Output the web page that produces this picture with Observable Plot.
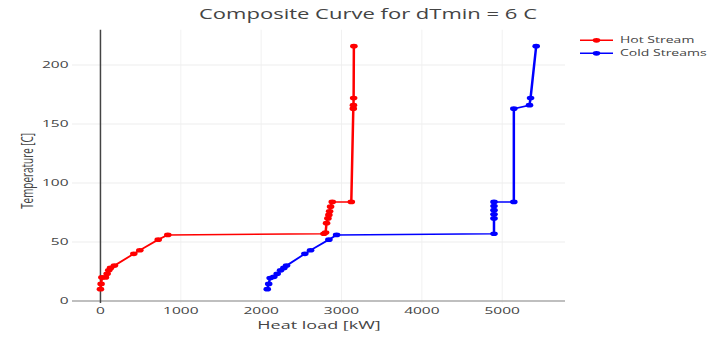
<!DOCTYPE html>
<html>
<head>
<meta charset="utf-8">
<script src="https://cdn.jsdelivr.net/npm/d3@7"></script>
<script src="https://cdn.jsdelivr.net/npm/@observablehq/plot@0.6"></script>
<style>
  html, body { margin: 0; padding: 0; overflow: hidden; background: #fff; }
  #wrap { position: relative; width: 718px; height: 547px; transform: scaleY(0.6197); transform-origin: 0 0; font-family: "Open Sans", sans-serif; color: #444; }
  #wrap svg.plot { display: block; position: absolute; left: 0; top: 0; }
  #title { position: absolute; left: 0; top: 6px; width: 736px; height: 30px; line-height: 30px; text-align: center; font-size: 22px; color: #444; white-space: nowrap; }
  .leg { position: absolute; left: 580px; height: 20px; line-height: 20px; display: flex; align-items: center; font-size: 14px; color: #444; white-space: nowrap; }
  .leg svg { display: block; margin-right: 7px; }
</style>
</head>
<body>
<div id="wrap">
  <div id="title">Composite Curve for dTmin = 6 C</div>
</div>
<script>
// Hot composite curve: heat load [kW] and temperature [C]
const hotQ = [0, 8, 18, 62, 83, 103, 125, 174, 415, 490, 719, 838, 2781, 2802, 2814, 2831, 2843, 2852, 2864, 2885, 3122, 3147, 3149, 3151, 3154];
const hotT = [10, 14.5, 20, 20, 23, 26, 28, 30, 40, 43, 52, 56, 57, 58, 66, 70, 73, 76, 80, 84, 84, 163, 166, 172, 216];
// Cold composite curve
const coldQ = [2076, 2094, 2112, 2158, 2200, 2242, 2283, 2316, 2544, 2615, 2843, 2939, 4898, 4898, 4898, 4898, 4898, 4898, 5145, 5145, 5340, 5353, 5423];
const coldT = [10, 14.5, 19.5, 20.5, 23, 26, 28, 30, 40, 43, 52, 56, 57, 70, 73.5, 77, 80.5, 84, 84, 163, 166, 172, 216];

const seriesNames = ["Hot Stream", "Cold Streams"];
const seriesColors = ["red", "blue"];
const xTicks = [0, 1000, 2000, 3000, 4000, 5000];
const yTicks = [0, 50, 100, 150, 200];
const xLabel = "Heat load [kW]";
const yLabel = "Temperature [C]";

const hot = hotQ.map((q, i) => ({q, t: hotT[i]}));
const cold = coldQ.map((q, i) => ({q, t: coldT[i]}));

const font = "Open Sans";
const chart = Plot.plot({
  width: 718,
  height: 547,
  marginLeft: 72,
  marginRight: 153,
  marginTop: 48,
  marginBottom: 58,
  style: {fontFamily: font, color: "#444", background: "transparent", overflow: "visible"},
  x: {domain: [-348, 5788]},
  y: {domain: [-2, 229.7]},
  marks: [
    Plot.gridX(xTicks.filter(d => d !== 0), {stroke: "#eee", strokeOpacity: 1, strokeWidth: 1}),
    Plot.gridY(yTicks.filter(d => d !== 0), {stroke: "#eee", strokeOpacity: 1, strokeWidth: 1.6}),
    Plot.ruleY([0], {stroke: "#aaa", strokeWidth: 2.4}),
    Plot.ruleX([0], {stroke: "#444", strokeWidth: 1.5}),
    Plot.axisX(xTicks, {tickSize: 0, tickPadding: 6, fontSize: 15.5, fill: "#444", label: null, tickFormat: d3.format("d")}),
    Plot.axisY(yTicks, {tickSize: 0, tickPadding: 4, fontSize: 15.5, fill: "#444", label: null, tickFormat: d3.format("d")}),
    Plot.text([xLabel], {text: d => d, frameAnchor: "bottom", dy: 41, fontSize: 18, fill: "#444"}),
    Plot.text([yLabel], {text: d => d, frameAnchor: "left", dx: -45, dy: 68, rotate: -90, fontSize: 16, fill: "#444"}),
    Plot.line(hot, {x: "q", y: "t", stroke: seriesColors[0], strokeWidth: 2.5}),
    Plot.dot(hot, {x: "q", y: "t", r: 3.8, fill: seriesColors[0], stroke: "none"}),
    Plot.line(cold, {x: "q", y: "t", stroke: seriesColors[1], strokeWidth: 2.5}),
    Plot.dot(cold, {x: "q", y: "t", r: 3.8, fill: seriesColors[1], stroke: "none"})
  ]
});
chart.classList.add("plot");
const wrap = document.getElementById("wrap");
wrap.appendChild(chart);

// Legend
const rowsY = [54.5, 76];
seriesNames.forEach((name, i) => {
  const row = document.createElement("div");
  row.className = "leg";
  row.style.top = rowsY[i] + "px";
  row.innerHTML = `<svg width="33" height="20"><line x1="0" x2="33" y1="10" y2="10" stroke="${seriesColors[i]}" stroke-width="2.5"/><circle cx="16.5" cy="10" r="3.8" fill="${seriesColors[i]}"/></svg><span>${name}</span>`;
  wrap.appendChild(row);
});
</script>
</body>
</html>
